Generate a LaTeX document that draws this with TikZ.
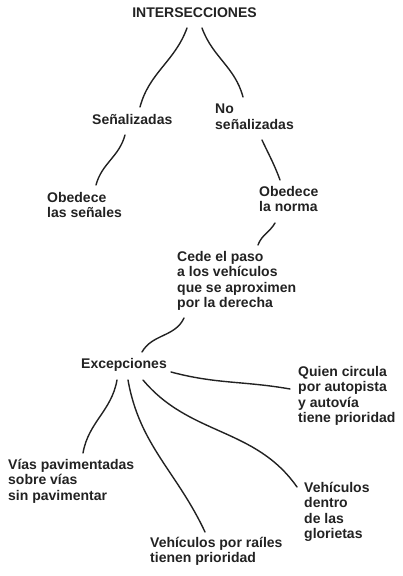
\documentclass[tikz,border=0pt]{standalone}
\usepackage{fontspec}
\setmainfont{Liberation Sans}
\usepackage{xcolor}
\definecolor{inkcolor}{RGB}{34, 34, 34}
\tikzset{
    lbl/.style={inner sep=0pt, anchor=north west, align=left, text=inkcolor,
        font=\bfseries\fontsize{14}{15.5}\selectfont},
    branch/.style={inkcolor, line width=1.4pt, line cap=round}
}

\begin{document}
\begin{tikzpicture}[x=1pt,y=1pt]
    \useasboundingbox (0,0) rectangle (402,576);
    \node[lbl, anchor=north] (inter) at (194.5,568) {INTERSECCIONES};
    \node[lbl] (sen) at (92,462) {Señalizadas};
    \node[lbl] (nosen) at (215,472) {No\\señalizadas};
    \node[lbl] (obsen) at (47,384) {Obedece\\las señales};
    \node[lbl] (obnor) at (259,390) {Obedece\\la norma};
    \node[lbl] (cede) at (177,325) {Cede el paso\\a los vehículos\\que se aproximen\\por la derecha};
    \node[lbl] (exc) at (81,218) {Excepciones};
    \node[lbl] (quien) at (298,210) {Quien circula\\por autopista\\y autovía\\tiene prioridad};
    \node[lbl] (vias) at (8,117) {Vías pavimentadas\\sobre vías\\sin pavimentar};
    \node[lbl] (railes) at (150,39) {Vehículos por raíles\\tienen prioridad};
    \node[lbl] (glor) at (304,94) {Vehículos\\dentro\\de las\\glorietas};
    % ramas
    \draw[branch] ([shift={(-7.5,-20)}]inter.north) to[out=-110,in=75] ([shift={(48,7)}]sen.north west);
    \draw[branch] ([shift={(7.5,-20)}]inter.north) to[out=-70,in=105] ([shift={(28,7)}]nosen.north west);
    \draw[branch] ([shift={(33,-21)}]sen.north west) to[out=-105,in=75] ([shift={(49,7)}]obsen.north west);
    \draw[branch] ([shift={(47,-36)}]nosen.north west) to[out=-65,in=110] ([shift={(21,6)}]obnor.north west);
    \draw[branch] ([shift={(16,-37)}]obnor.north west) to[out=-120,in=70] ([shift={(81,6)}]cede.north west);
    \draw[branch] ([shift={(7,-67)}]cede.north west) to[out=-115,in=60] ([shift={(61,6)}]exc.north west);
    \draw[branch] ([shift={(90,-14)}]exc.north west) to[out=-15,in=170] ([shift={(-8,-23)}]quien.north west);
    \draw[branch] ([shift={(36,-22)}]exc.north west) to[out=-100,in=80] ([shift={(75,6)}]vias.north west);
    \draw[branch] ([shift={(47,-22)}]exc.north west) to[out=-80,in=115] ([shift={(55,5)}]railes.north west);
    \draw[branch] ([shift={(62,-22)}]exc.north west) to[out=-50,in=125] ([shift={(-7,-5)}]glor.north west);
\end{tikzpicture}
\end{document}
